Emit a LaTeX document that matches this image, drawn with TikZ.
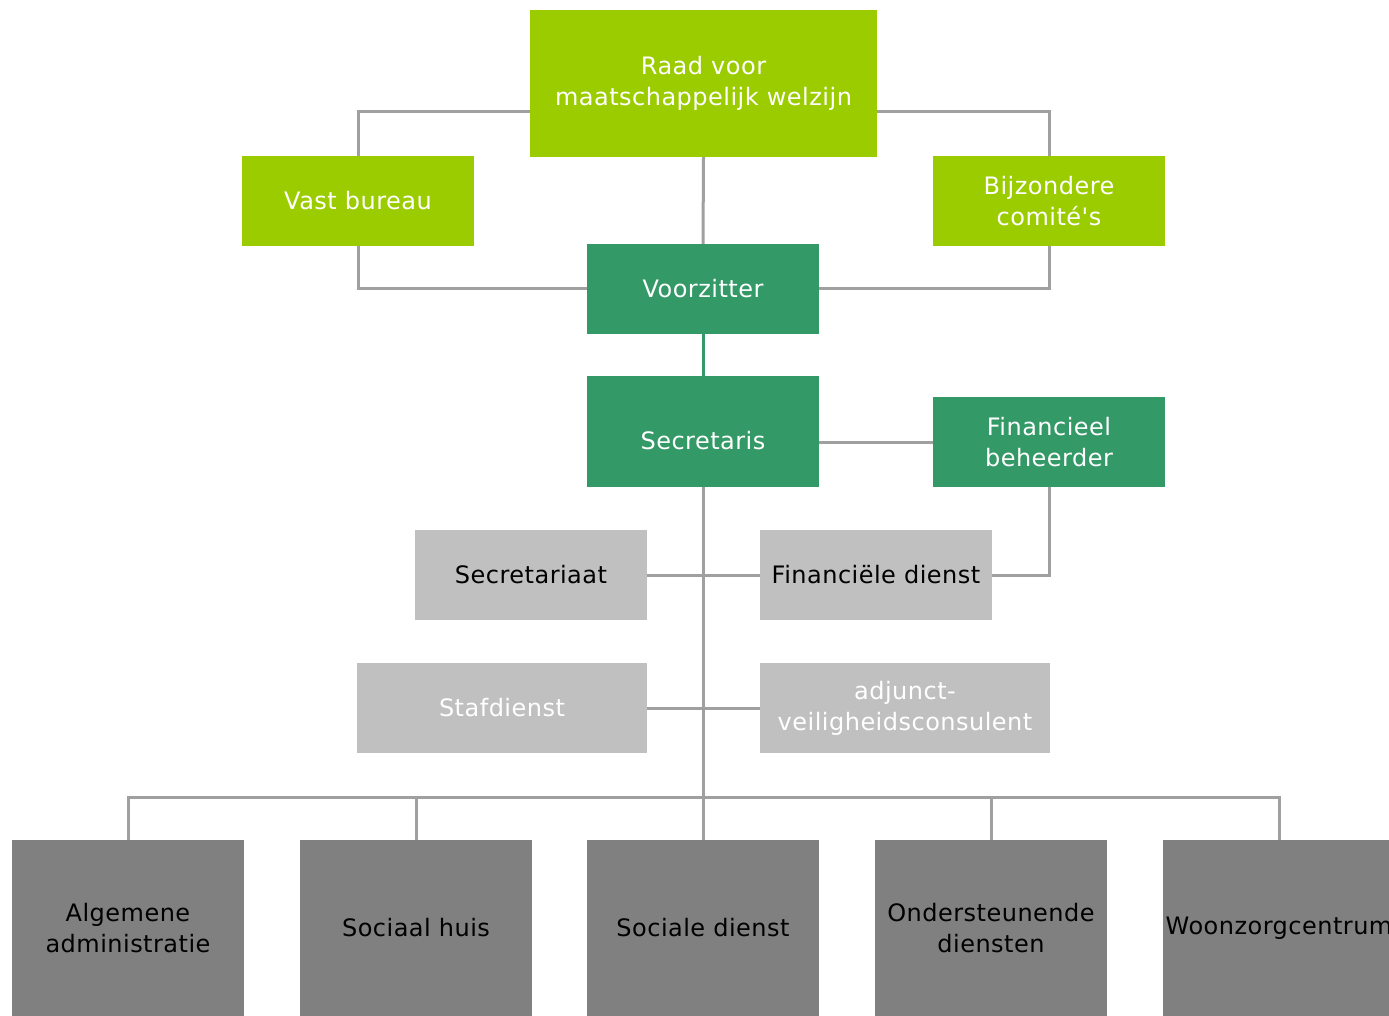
\documentclass[tikz,border=0pt]{standalone}
\usepackage{fontspec}
\newfontfamily\boxfont[LetterSpace=2]{DejaVu Sans}
\usetikzlibrary{backgrounds}
\definecolor{lime}{RGB}{155,204,0}
\definecolor{dgreen}{RGB}{51,153,102}
\definecolor{lgray}{RGB}{192,192,192}
\definecolor{dgray}{RGB}{128,128,128}
\definecolor{conncol}{RGB}{160,160,160}
\tikzset{
  box/.style={inner sep=0pt, align=center, font=\boxfont\fontsize{24}{31}\selectfont, minimum width=232pt, minimum height=90pt},
  limebox/.style={box, fill=lime, text=white},
  greenbox/.style={box, fill=dgreen, text=white},
  lbox/.style={box, fill=lgray, text=black},
  lboxw/.style={box, fill=lgray, text=white},
  dbox/.style={box, fill=dgray, text=black, minimum height=176pt},
  conn/.style={draw=conncol, line width=3pt},
  gconn/.style={draw=dgreen, line width=3pt}
}
\begin{document}
\begin{tikzpicture}[x=1pt,y=-1pt]
\clip (0,0) rectangle (1389,1016);
% top level
\node[limebox, minimum width=347pt, minimum height=147pt] (raad) at (703.5,83.5) {Raad voor\\maatschappelijk welzijn};
\node[limebox] (vast) at (358,201) {Vast bureau};
\node[limebox] (bijz) at (1049,201) {Bijzondere\\comité's};
\node[greenbox] (voor) at (703,289) {Voorzitter};
\node[greenbox, minimum height=92pt] (sec) at (703,441) {Secretaris};
\fill[dgreen] (sec.north west) rectangle ([yshift=19pt]sec.north east);
\coordinate (sectop) at ([yshift=19pt]sec.north);
\node[greenbox] (fin) at (1049,442) {Financieel\\beheerder};
\node[lbox] (secr) at (531,575) {Secretariaat};
\node[lbox] (find) at (876,575) {Financiële dienst};
\node[lboxw, minimum width=290pt] (staf) at (502,708) {Stafdienst};
\node[lboxw, minimum width=290pt] (adj) at (905,708) {adjunct-\\veiligheidsconsulent};
% bottom row
\node[dbox] (alg) at (128,928) {Algemene\\administratie};
\node[dbox] (shuis) at (416,928) {Sociaal huis};
\node[dbox] (sdienst) at (703,928) {Sociale dienst};
\node[dbox] (onder) at (991,928) {Ondersteunende\\diensten};
\node[dbox] (woon) at (1279,928) {Woonzorgcentrum};
\coordinate (bus) at (703,797);
\begin{scope}[on background layer]
\fill[white] (0,0) rectangle (1389,1016);
\draw[conn] ([yshift=-28.5pt]raad.west) -| (vast.north);
\draw[conn] ([yshift=-28.5pt]raad.east) -| (bijz.north);
\draw[conn] (raad.south) -- (voor.north);
\draw[conn] (vast.south) |- (voor.west);
\draw[conn] (bijz.south) |- (voor.east);
\draw[gconn] (voor.south) -- (sectop);
\draw[conn] (sec.east |- fin.west) -- (fin.west);
\draw[conn] (sec.south) -- (sdienst.north);
\draw[conn] (secr.east) -- (find.west);
\draw[conn] (fin.south) |- (find.east);
\draw[conn] (staf.east) -- (adj.west);
\draw[conn] (alg.north) |- (bus) -| (woon.north);
\draw[conn] (shuis.north) -- (shuis.north |- bus);
\draw[conn] (onder.north) -- (onder.north |- bus);
\end{scope}
\end{tikzpicture}
\end{document}
